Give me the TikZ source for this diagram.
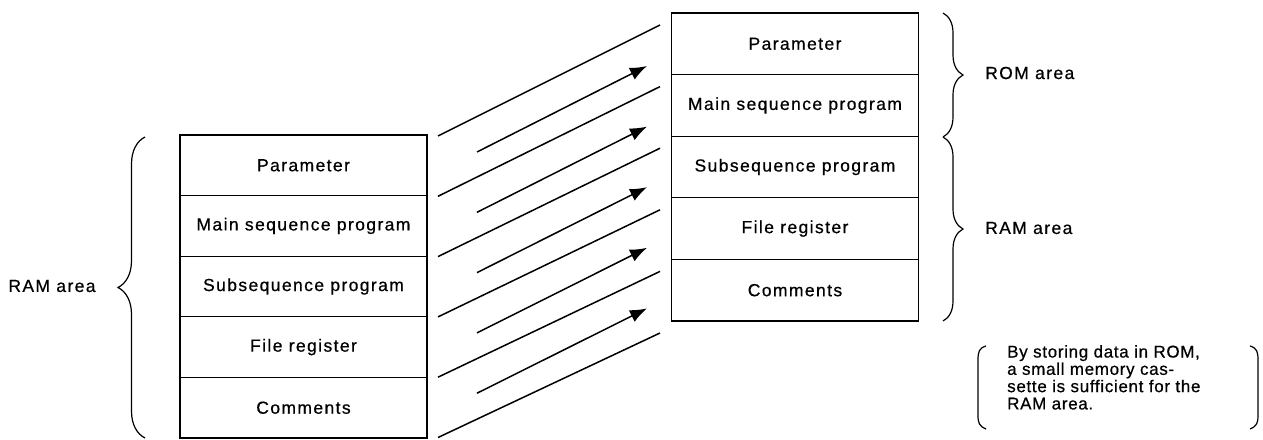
\documentclass[tikz,border=0pt]{standalone}
\usepackage{fontspec}
\setmainfont{Liberation Sans}[LetterSpace=8,FakeBold=0.6]
\newfontfamily\notefont{Liberation Sans}[LetterSpace=4,FakeBold=0.6]
\usetikzlibrary{arrows.meta,decorations.pathreplacing}
\begin{document}
\begin{tikzpicture}[x=1pt,y=-1pt,
  txt/.style={font=\fontsize{17.5}{17.3}\selectfont},
  cell/.style={draw,line width=1.2pt,minimum width=247pt,inner sep=0pt,txt},
  lcell/.style={cell,minimum height=60.6pt},
  rcell/.style={cell,minimum height=61.6pt},
  flow/.style={line width=1.5pt},
  flowarrow/.style={line width=1.5pt,-{Latex[length=17pt,width=13pt]}},
  bracebig/.style={decorate,decoration={brace,amplitude=27pt},line width=1.2pt},
  bracesmall/.style={decorate,decoration={brace,amplitude=20pt},line width=1.2pt}]
\useasboundingbox (0,0) rectangle (1263,439);
% left table
\foreach \t [count=\i from 0] in {Parameter,Main sequence program,Subsequence program,File register,Comments}
  \node[lcell] (L\i) at (303.5,{135+30.3+\i*60.6}) {\t};
% right table
\foreach \t [count=\i from 0] in {Parameter,Main sequence program,Subsequence program,File register,Comments}
  \node[rcell] (R\i) at (795,{13+30.8+\i*61.6}) {\t};
% long lines
\foreach \i in {0,...,5} {
  \coordinate (a\i) at (438,{136+\i*60.3});
  \coordinate (b\i) at (660,{25+\i*61.6});
  \draw[flow] (a\i) -- (b\i);
}
% short arrows
\foreach \i in {0,...,4} {
  \coordinate (s\i) at (477,{152+\i*60.3});
  \coordinate (t\i) at (647,{66+\i*60.6});
  \draw[flowarrow] (s\i) -- (t\i);
}
% braces
\coordinate (lb1) at (145,438);
\coordinate (lb2) at (145,137);
\draw[bracebig] (lb1) -- (lb2);
\node[txt] (ramL) at (52,286) {RAM area};
\coordinate (rb1) at (943,13);
\coordinate (rb2) at (943,137);
\coordinate (rb3) at (943,321);
\draw[bracesmall] (rb1) -- (rb2);
\draw[bracesmall] (rb2) -- (rb3);
\node[txt,anchor=west,inner sep=0pt] (rom) at (985,73) {ROM area};
\node[txt,anchor=west,inner sep=0pt] (ramR) at (985,228) {RAM area};
% note
\draw[line width=1.2pt] (986,346) .. controls (979,348) and (978,352) .. (978,360) -- (978,415) .. controls (978,423) and (979,426) .. (986,429);
\draw[line width=1.2pt] (1250,346) .. controls (1257,348) and (1258,352) .. (1258,360) -- (1258,415) .. controls (1258,423) and (1257,426) .. (1250,429);
\node[font=\notefont\fontsize{17}{17.3}\selectfont,anchor=north west,inner sep=0pt,align=left] (note) at (1007,345)
  {By storing data in ROM,\\a small memory cas-\\sette is sufficient for the\\RAM area.};
\end{tikzpicture}
\end{document}
